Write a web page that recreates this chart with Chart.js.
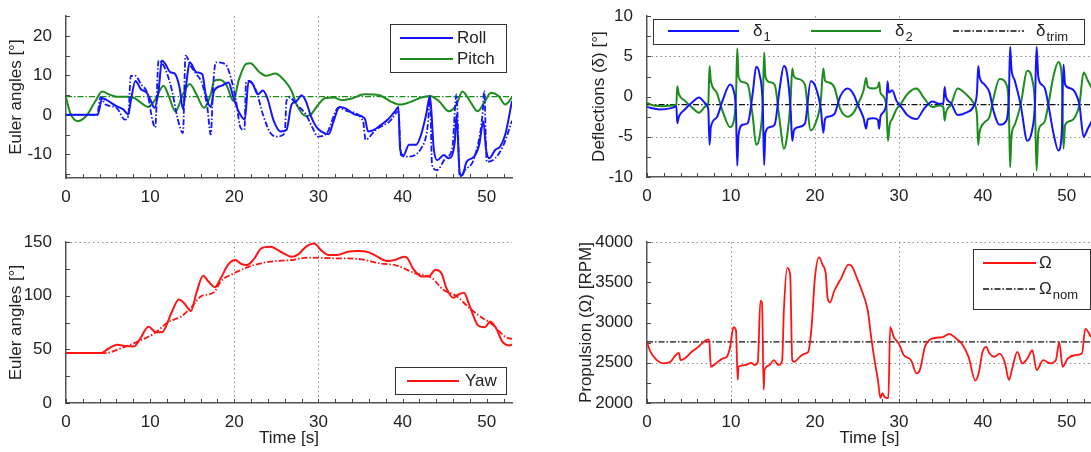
<!DOCTYPE html>
<html>
<head>
<meta charset="utf-8">
<script src="https://cdn.jsdelivr.net/npm/chart.js@4.4.0/dist/chart.umd.min.js"></script>
<style>
  html, body { margin: 0; padding: 0; background: #fff; overflow: hidden; width: 1091px; height: 452px; }
  .pane { position: absolute; }
</style>
</head>
<body>
<div class="pane" style="left:0;top:0"><canvas id="tl" width="540" height="226"></canvas></div>
<div class="pane" style="left:575px;top:0"><canvas id="tr" width="525" height="226"></canvas></div>
<div class="pane" style="left:0;top:226px"><canvas id="bl" width="540" height="226"></canvas></div>
<div class="pane" style="left:575px;top:226px"><canvas id="br" width="525" height="226"></canvas></div>
<script>
// tick labels
const timeTicks = [0, 10, 20, 30, 40, 50];
const eulerTicks = [-10, 0, 10, 20];
const deflTicks = [-10, -5, 0, 5, 10];
const yawTicks = [0, 50, 100, 150];
const rpmTicks = [2000, 2500, 3000, 3500, 4000];

// top left: roll / pitch [deg]
const rollT = [0, 3.75, 4.3, 4.7, 6.0, 6.8, 7.4, 7.7, 8.25, 8.9, 9.6, 10.1, 10.5, 11.0, 11.4, 11.8, 12.4, 12.9, 13.5, 13.9, 14.3, 14.7, 15.5, 16.2, 16.6, 17.2, 17.6, 18.5, 19.3, 19.9, 20.5, 21.25, 21.7, 22.2, 22.8, 23.4, 23.9, 24.7, 25.5, 26.2, 26.8, 27.4, 28.0, 28.5, 29.1, 29.7, 30.3, 31.2, 31.8, 32.5, 33.25, 34.3, 35.5, 35.9, 36.6, 37.4, 38.25, 39.1, 39.5, 39.7, 40.1, 40.75, 41.6, 42.2, 42.8, 43.25, 43.7, 44.1, 44.9, 45.5, 46.2, 46.4, 46.8, 47.1, 47.6, 48.5, 49.1, 49.6, 49.9, 50.3, 51.0, 51.6, 52.2, 53.0];
const rollV = [0, 0, 4.2, 3.9, 2.2, 1.4, 0.1, 3.5, 8.6, 6.5, 5.6, 3.5, 1.8, 6.1, 13.8, 12.9, 10.8, 10.5, 6.9, 1.5, 8.0, 13.3, 10.8, 10.3, 5.2, 2.0, 6.1, 7.4, 8.2, 4.4, 0.9, -1.2, 8.6, 7.8, 5.2, 6.2, 4.4, -1.6, -4.2, -3.8, 2.6, 3.5, 5.0, 3.5, -0.3, -2.9, -4.2, -4.9, -1.6, 2.0, 1.6, 0.1, -0.9, -4.2, -3.8, -2.6, -1.2, 0.9, 2.0, -8.5, -10.3, -7.6, -7.6, -5.0, 0.1, 4.8, -8.5, -11.5, -10.2, -11.0, -6.8, 0.0, -14.9, -15.3, -11.9, -10.6, -7.6, -1.6, -8.5, -11.0, -8.9, -8.0, -5.0, 3.5];
const rollRefT = [0, 3.7, 4.1, 4.7, 6.0, 7.0, 7.4, 7.7, 8.25, 8.9, 9.7, 10.3, 10.6, 11.0, 11.8, 12.6, 13.25, 13.9, 14.2, 14.9, 15.5, 16.2, 16.8, 17.2, 17.5, 17.8, 18.9, 19.7, 20.2, 20.75, 21.2, 21.4, 21.8, 22.6, 23.4, 24.3, 25.1, 26.0, 26.2, 26.6, 27.4, 28.5, 29.3, 29.9, 31.0, 32.4, 33.5, 35.3, 35.6, 36.8, 38.5, 39.5, 39.8, 40.5, 42.2, 43.0, 43.25, 43.5, 44.1, 45.1, 45.9, 46.4, 46.8, 47.4, 48.5, 49.5, 49.7, 50.0, 51.0, 52.0, 53.0];
const rollRefV = [0, 0, 4.5, 2.6, 1.8, -1.2, -0.3, 9.9, 9.9, 7.8, 5.2, -1.6, -3.2, 13.8, 11.6, 6.1, -0.8, -4.6, 15.0, 12.1, 10.3, 7.8, 1.8, -5.0, 7.8, 13.3, 12.9, 8.6, 3.5, -3.3, -3.8, 8.2, 8.6, 6.1, 0.1, -4.6, -5.5, -4.6, 3.5, 4.4, 2.6, 0.1, -3.3, -5.5, -4.6, 1.8, 0.9, -1.6, -6.3, -3.8, -1.6, 0.9, -10.2, -10.6, -8.5, -2.5, 4.4, -12.7, -14.0, -11.0, -8.5, 5.2, -15.7, -14.0, -11.0, 0.1, 6.1, -11.9, -11.0, -7.6, -1.5];
const pitchT = [0, 0.5, 1.4, 2.4, 3.5, 4.3, 5.1, 6.0, 7.2, 8.0, 8.9, 9.7, 10.5, 11.6, 12.2, 13.0, 13.9, 14.7, 15.5, 16.4, 17.2, 17.6, 18.25, 19.1, 19.9, 20.5, 21.4, 21.9, 23.0, 23.8, 24.9, 26.0, 26.8, 27.4, 28.5, 29.1, 29.7, 30.75, 31.8, 32.8, 33.9, 35.5, 37.2, 38.5, 39.7, 41.2, 42.2, 43.25, 44.3, 45.5, 46.4, 47.1, 48.0, 48.9, 49.7, 50.5, 51.4, 52.2, 53.0];
const pitchV = [4.4, 0.5, -1.6, -0.3, 3.5, 5.9, 5.2, 4.6, 4.6, 4.4, 3.1, 2.0, 3.5, 7.4, 4.8, 0.9, 5.2, 7.8, 5.2, 1.8, 5.2, 8.6, 8.9, 7.4, 3.5, 8.6, 12.9, 13.1, 10.8, 9.9, 10.5, 8.6, 6.1, 2.6, -0.3, 0.1, 1.8, 4.2, 4.4, 3.7, 4.1, 5.2, 5.0, 3.5, 2.6, 3.5, 4.4, 4.8, 3.5, 0.9, 2.6, 5.9, 3.5, 0.9, 3.1, 5.6, 4.8, 2.6, 4.4];
const pitchTrimT = [0, 53];
const pitchTrimV = [4.6, 4.6];

// top right: flap deflections [deg]
const d1T = [0, 1.5, 3.0, 3.5, 3.6, 3.8, 4.5, 5.3, 6.2, 7.0, 7.3, 7.45, 7.6, 8.3, 9.0, 9.9, 10.3, 10.6, 10.75, 10.9, 11.4, 12.0, 12.6, 13.0, 13.4, 13.8, 13.95, 14.1, 14.6, 15.2, 15.8, 16.3, 16.6, 17.1, 17.3, 17.5, 18.0, 18.8, 19.5, 20.0, 20.7, 21.0, 21.2, 21.5, 22.3, 23.0, 23.9, 24.6, 25.1, 25.8, 26.1, 26.3, 27.0, 27.5, 27.65, 27.8, 28.5, 28.65, 28.8, 29.2, 29.7, 30.3, 31.0, 32.1, 33.0, 34.0, 34.8, 35.3, 35.45, 35.6, 36.2, 37.0, 38.0, 38.9, 39.3, 39.45, 39.6, 40.2, 40.8, 41.2, 42.0, 42.8, 43.1, 43.25, 43.4, 43.8, 44.5, 45.3, 45.9, 46.2, 46.4, 46.6, 47.0, 47.4, 47.8, 48.4, 49.0, 49.4, 49.6, 49.8, 50.5, 51.0, 51.5, 52.0, 52.5, 53.0];
const d1V = [-1.3, -1.6, -1.4, -1.2, -3.3, -2.5, -1.6, -0.8, -0.1, -0.9, -1.6, -6.0, -3.8, -2.6, -0.5, 1.5, 0.8, -2.0, -8.6, -4.8, -3.5, -3.3, 0.5, 3.7, 2.8, -1.5, -8.5, -4.5, -3.8, -3.5, 1.0, 3.8, 3.3, -1.5, -5.5, -4.2, -3.8, -3.4, 1.9, 1.4, -1.5, -4.5, -2.8, -2.5, -2.2, 0.0, 1.0, 0.3, -1.0, -2.7, -4.0, -2.8, -2.7, -2.9, -4.0, -2.5, -1.0, 1.9, 0.5, 0.8, -0.5, -1.3, -2.3, -2.8, -1.5, -0.6, -0.9, -0.8, 1.2, 0.0, -0.8, -2.3, -2.0, -1.2, 0.5, 3.8, 2.5, 1.5, 0.5, -1.5, -3.5, -3.0, 0.0, 6.2, 3.5, 2.0, -1.0, -5.5, -4.0, -1.0, 6.2, 2.5, 1.5, 1.0, -1.0, -4.5, -6.7, -4.5, 4.0, 1.5, 1.0, 0.5, -1.0, -5.0, -4.0, -3.0];
const d2T = [0, 0.8, 2.0, 3.0, 3.5, 3.6, 3.8, 4.5, 5.3, 6.2, 7.0, 7.3, 7.45, 7.6, 8.3, 9.0, 9.9, 10.3, 10.6, 10.75, 10.9, 11.4, 12.0, 12.6, 13.0, 13.4, 13.8, 13.95, 14.1, 14.6, 15.2, 15.8, 16.3, 16.6, 17.1, 17.3, 17.5, 18.0, 18.8, 19.5, 20.0, 20.7, 21.0, 21.2, 21.5, 22.3, 23.0, 23.9, 24.6, 25.1, 25.8, 26.1, 26.3, 27.0, 27.5, 27.65, 27.8, 28.5, 28.7, 28.9, 29.2, 29.7, 30.3, 31.0, 32.1, 33.0, 34.0, 34.8, 35.3, 35.45, 35.6, 36.2, 37.0, 38.0, 38.9, 39.3, 39.45, 39.6, 40.2, 40.8, 41.2, 42.0, 42.8, 43.1, 43.25, 43.4, 43.8, 44.5, 45.3, 45.9, 46.2, 46.4, 46.6, 47.0, 47.4, 47.8, 48.4, 49.0, 49.4, 49.6, 49.8, 50.5, 51.0, 51.5, 52.0, 52.5, 53.0];
const d2V = [-0.8, -1.1, -1.2, -1.1, -1.0, 1.3, 0.3, -0.5, -1.3, -2.0, -1.2, -0.8, 3.8, 2.0, 0.5, -1.8, -3.8, -3.2, 0.0, 6.0, 2.5, 1.8, 1.5, -2.5, -6.0, -5.0, -0.5, 5.5, 2.5, 1.8, 1.5, -3.0, -6.5, -5.5, -0.5, 3.5, 2.5, 2.2, 1.5, -4.2, -3.5, -0.5, 3.5, 2.0, 1.8, 1.2, -1.5, -2.5, -2.0, -1.0, 0.8, 2.3, 1.2, 1.0, 1.2, 1.8, 0.5, -1.0, -5.5, -3.5, -2.8, -1.6, -0.8, 0.3, 1.0, -0.2, -1.3, -1.1, -1.3, -3.0, -2.0, -1.0, 1.0, 0.3, -0.8, -2.3, -6.0, -4.5, -3.2, -2.5, -0.5, 2.2, 1.5, -1.5, -8.8, -5.0, -3.5, -1.0, 3.2, 2.0, -1.0, -9.2, -4.5, -3.5, -3.0, -1.0, 2.5, 4.3, 2.5, -6.5, -3.5, -3.0, -2.5, -1.0, 3.0, 2.0, 1.0];
const dTrimT = [0, 53];
const dTrimV = [-1.0, -1.0];

// bottom left: yaw [deg]
const yawT = [0, 4.2, 5.0, 6.1, 7.1, 8.1, 8.8, 9.8, 10.7, 11.4, 12.55, 13.4, 14.0, 14.85, 15.5, 16.3, 16.9, 17.7, 18.4, 19.25, 20.1, 20.9, 21.5, 22.4, 23.2, 24.3, 25.5, 26.8, 27.6, 28.5, 29.5, 30.3, 31.2, 32.2, 33.5, 34.7, 36.0, 37.0, 38.1, 39.1, 40.2, 40.6, 41.2, 42.3, 43.1, 43.9, 44.6, 45.2, 46.0, 46.65, 47.3, 47.9, 49.0, 49.8, 50.4, 51.05, 51.9, 52.7, 53.0];
const yawV = [46.6, 46.6, 50.6, 54.3, 53.1, 52.8, 59.8, 71.2, 66.0, 66.0, 84.4, 96.6, 93.6, 85.9, 102.8, 118.7, 113.5, 108.0, 116.6, 128.8, 133.4, 129.4, 128.8, 135.0, 144.2, 145.7, 141.1, 136.5, 138.7, 145.7, 148.8, 142.6, 138.0, 138.0, 141.1, 141.7, 140.5, 136.5, 132.5, 133.4, 136.5, 135.0, 125.8, 118.1, 118.1, 124.2, 121.2, 107.4, 98.2, 101.2, 102.8, 92.0, 72.1, 70.6, 76.1, 70.6, 56.7, 53.7, 54.6];
const yawRefT = [0, 4.6, 6.7, 8.8, 10.5, 12.1, 13.8, 14.85, 16.1, 17.6, 18.4, 19.7, 21.3, 22.5, 24.3, 26.8, 28.9, 31.8, 34.7, 37.2, 39.3, 41.4, 43.5, 44.8, 46.4, 48.1, 49.4, 50.6, 52.3, 53.0];
const yawRefV = [46.6, 46.6, 51.5, 58.3, 65.0, 75.2, 81.3, 89.0, 99.7, 103.4, 113.5, 120.0, 125.8, 129.0, 131.9, 133.4, 135.6, 135.0, 134.4, 130.4, 128.2, 121.2, 116.6, 105.8, 99.7, 87.4, 79.8, 73.6, 61.3, 59.8];

// bottom right: propeller speed [RPM]
const rpmT = [0, 0.33, 1.16, 2.0, 2.8, 3.4, 3.8, 4.0, 4.5, 5.3, 6.1, 7.0, 7.4, 7.6, 8.2, 9.0, 9.5, 9.9, 10.3, 10.6, 10.8, 10.9, 11.7, 12.4, 12.8, 13.2, 13.5, 13.7, 13.9, 14.0, 14.6, 15.1, 15.7, 16.1, 16.3, 16.7, 17.05, 17.3, 17.55, 18.2, 18.8, 19.2, 19.6, 20.0, 20.5, 20.9, 21.3, 21.5, 21.8, 22.3, 23.15, 24.0, 24.4, 25.0, 25.6, 26.3, 26.7, 27.1, 27.5, 27.8, 28.05, 28.3, 28.75, 28.96, 29.4, 30.0, 30.6, 31.45, 32.1, 32.5, 33.1, 33.9, 35.2, 36.0, 36.6, 37.5, 38.3, 39.1, 39.5, 39.96, 40.4, 40.8, 41.4, 42.0, 42.65, 43.1, 43.5, 44.1, 44.7, 45.3, 45.9, 46.4, 47.2, 48.0, 48.7, 49.1, 49.5, 50.1, 50.95, 51.8, 52.2, 52.9];
const rpmV = [2758, 2656, 2533, 2492, 2512, 2594, 2623, 2533, 2553, 2635, 2697, 2779, 2791, 2451, 2492, 2553, 2574, 2697, 2943, 2902, 2287, 2451, 2471, 2500, 2471, 2512, 3270, 3250, 2164, 2410, 2471, 2533, 2471, 2533, 3147, 3680, 3598, 2533, 2512, 2574, 2615, 2635, 2943, 3557, 3811, 3721, 3598, 3311, 3250, 3393, 3557, 3721, 3700, 3557, 3393, 3147, 2820, 2533, 2287, 2061, 2123, 2074, 2061, 2943, 2820, 2738, 2594, 2533, 2369, 2410, 2697, 2799, 2820, 2861, 2820, 2738, 2574, 2279, 2369, 2635, 2697, 2615, 2574, 2615, 2492, 2287, 2430, 2635, 2492, 2553, 2656, 2410, 2533, 2492, 2533, 2758, 2451, 2553, 2594, 2615, 2922, 2820];
const rpmNomT = [0, 53];
const rpmNomV = [2760, 2760];

const BLUE = '#1414ff', GREEN = '#1d8c1d', RED = '#ff1414', BLACK = '#111111';
const DASHDOT = [6, 2, 1.5, 2];
const FONT = "'Liberation Sans', Arial, sans-serif";
const FS = 17;

Chart.defaults.font.family = FONT;
Chart.defaults.font.size = FS;
Chart.defaults.color = '#222';

function series(ts, vs, color, width, dash) {
  return {
    data: ts.map((t, i) => ({ x: t, y: vs[i] })),
    borderColor: color,
    borderWidth: width,
    borderDash: dash || [],
    pointRadius: 0,
    fill: false,
    cubicInterpolationMode: 'monotone'
  };
}

// dotted grid lines and small inward ticks, placed with the chart's scales
const axisDeco = {
  id: 'axisDeco',
  beforeDatasetsDraw(chart, args, o) {
    const { ctx, chartArea: a, scales: { x, y } } = chart;
    ctx.save();
    ctx.lineWidth = 1;
    ctx.strokeStyle = '#8c8c8c';
    ctx.setLineDash([1.5, 3]);
    (o.gridX || []).forEach(v => {
      const px = Math.round(x.getPixelForValue(v)) + 0.5;
      ctx.beginPath(); ctx.moveTo(px, a.top); ctx.lineTo(px, a.bottom); ctx.stroke();
    });
    (o.gridY || []).forEach(v => {
      const py = Math.round(y.getPixelForValue(v)) + 0.5;
      ctx.beginPath(); ctx.moveTo(a.left, py); ctx.lineTo(a.right, py); ctx.stroke();
    });
    ctx.setLineDash([]);
    ctx.strokeStyle = '#444';
    for (let v = 0; v <= x.max; v += o.stepX) {
      const px = Math.round(x.getPixelForValue(v)) + 0.5;
      ctx.beginPath(); ctx.moveTo(px, a.bottom); ctx.lineTo(px, a.bottom - 4); ctx.stroke();
    }
    for (let v = Math.ceil(y.min / o.stepY) * o.stepY; v <= y.max; v += o.stepY) {
      const py = Math.round(y.getPixelForValue(v)) + 0.5;
      ctx.beginPath(); ctx.moveTo(a.left, py); ctx.lineTo(a.left + 4, py); ctx.stroke();
    }
    ctx.restore();
  }
};

// boxed legend inside the axes, entries styled from the datasets
const boxLegend = {
  id: 'boxLegend',
  afterDraw(chart, args, o) {
    if (!o.items) return;
    const ctx = chart.ctx;
    ctx.save();
    ctx.fillStyle = '#fff';
    ctx.fillRect(o.x, o.y, o.w, o.h);
    ctx.strokeStyle = '#333';
    ctx.lineWidth = 1;
    ctx.strokeRect(o.x + 0.5, o.y + 0.5, o.w, o.h);
    o.items.forEach(it => {
      const ds = chart.data.datasets[it.ds];
      ctx.strokeStyle = ds.borderColor;
      ctx.lineWidth = ds.borderWidth;
      ctx.setLineDash(ds.borderDash);
      ctx.beginPath(); ctx.moveTo(it.x0, it.y); ctx.lineTo(it.x1, it.y); ctx.stroke();
      ctx.setLineDash([]);
      ctx.fillStyle = '#222';
      ctx.textBaseline = 'middle';
      ctx.font = FS + 'px ' + FONT;
      ctx.fillText(it.text, it.tx, it.y);
      if (it.sub) {
        const w = ctx.measureText(it.text).width;
        ctx.font = '13px ' + FONT;
        ctx.fillText(it.sub, it.tx + w + 1, it.y + 6);
      }
    });
    ctx.restore();
  }
};

function makeChart(id, c) {
  return new Chart(document.getElementById(id), {
    type: 'line',
    data: { datasets: c.datasets },
    options: {
      responsive: false,
      animation: false,
      events: [],
      layout: { padding: c.pad },
      plugins: {
        legend: { display: false },
        tooltip: { enabled: false },
        axisDeco: c.deco,
        boxLegend: c.legend
      },
      scales: {
        x: {
          type: 'linear', min: 0, max: 53,
          grid: { display: false },
          border: { display: true, color: '#555', width: 1.5 },
          ticks: { padding: 1, maxRotation: 0, autoSkip: false, callback: v => String(v) },
          afterBuildTicks: s => { s.ticks = timeTicks.map(v => ({ value: v })); },
          afterFit: s => { s.height = c.xh; },
          title: c.xTitle
            ? { display: true, text: 'Time [s]', padding: { top: 0, bottom: 3.8 } }
            : { display: false }
        },
        y: {
          type: 'linear', min: c.yMin, max: c.yMax,
          grid: { display: false },
          border: { display: true, color: '#555', width: 1.5 },
          ticks: { padding: 6, callback: v => String(v) },
          afterBuildTicks: s => { s.ticks = c.yTicks.map(v => ({ value: v })); },
          afterFit: s => { s.width = c.yw; },
          title: { display: true, text: c.yTitle, padding: { top: c.yTitlePad, bottom: 0 } }
        }
      }
    },
    plugins: [axisDeco, boxLegend]
  });
}

makeChart('tl', {
  datasets: [
    series(rollT, rollV, BLUE, 2),
    series(rollRefT, rollRefV, BLUE, 1.8, DASHDOT),
    series(pitchT, pitchV, GREEN, 2),
    series(pitchTrimT, pitchTrimV, GREEN, 1.3, DASHDOT)
  ],
  pad: { left: 0, top: 15, right: 28, bottom: 0 },
  xh: 48, yw: 66, yMin: -16, yMax: 25, yTicks: eulerTicks,
  yTitle: 'Euler angles [°]', yTitlePad: 5.8, xTitle: false,
  deco: { gridX: [20, 30], gridY: [], stepX: 2, stepY: 5 },
  legend: { x: 390, y: 24, w: 116, h: 48, items: [
    { ds: 0, x0: 400, x1: 453, y: 38, tx: 457, text: 'Roll' },
    { ds: 2, x0: 400, x1: 453, y: 59, tx: 457, text: 'Pitch' }
  ] }
});

makeChart('tr', {
  datasets: [
    series(d1T, d1V, BLUE, 2),
    series(d2T, d2V, GREEN, 2),
    series(dTrimT, dTrimV, BLACK, 1.3, DASHDOT)
  ],
  pad: { left: 0, top: 15, right: 8, bottom: 0 },
  xh: 49, yw: 72, yMin: -10, yMax: 10, yTicks: deflTicks,
  yTitle: 'Deflections (δ) [°]', yTitlePad: 13.8, xTitle: false,
  deco: { gridX: [20, 30], gridY: [5, -5], stepX: 2, stepY: 2.5 },
  legend: { x: 78, y: 19, w: 431, h: 25, items: [
    { ds: 0, x0: 93, x1: 164, y: 31, tx: 178, text: 'δ', sub: '1' },
    { ds: 1, x0: 236, x1: 306, y: 31, tx: 320, text: 'δ', sub: '2' },
    { ds: 2, x0: 378, x1: 449, y: 31, tx: 461, text: 'δ', sub: 'trim' }
  ] }
});

makeChart('bl', {
  datasets: [
    series(yawT, yawV, RED, 2),
    series(yawRefT, yawRefV, RED, 1.8, DASHDOT)
  ],
  pad: { left: 0, top: 14, right: 28, bottom: 0 },
  xh: 49, yw: 66, yMin: 0, yMax: 150, yTicks: yawTicks,
  yTitle: 'Euler angles [°]', yTitlePad: 5.8, xTitle: true,
  deco: { gridX: [20, 30], gridY: [150], stepX: 2, stepY: 25 },
  legend: { x: 395, y: 141, w: 111, h: 27, items: [
    { ds: 0, x0: 407, x1: 459, y: 155, tx: 465, text: 'Yaw' }
  ] }
});

makeChart('br', {
  datasets: [
    series(rpmT, rpmV, RED, 1.8),
    series(rpmNomT, rpmNomV, BLACK, 1.3, DASHDOT)
  ],
  pad: { left: 0, top: 14, right: 8, bottom: 0 },
  xh: 49, yw: 72, yMin: 2000, yMax: 4000, yTicks: rpmTicks,
  yTitle: 'Propulsion (Ω) [RPM]', yTitlePad: 0.8, xTitle: true,
  deco: { gridX: [10, 30], gridY: [4000, 2500], stepX: 2, stepY: 250 },
  legend: { x: 398, y: 23, w: 117, h: 60, items: [
    { ds: 0, x0: 408, x1: 461, y: 37, tx: 464, text: 'Ω' },
    { ds: 1, x0: 408, x1: 461, y: 63, tx: 464, text: 'Ω', sub: 'nom' }
  ] }
});
</script>
</body>
</html>
